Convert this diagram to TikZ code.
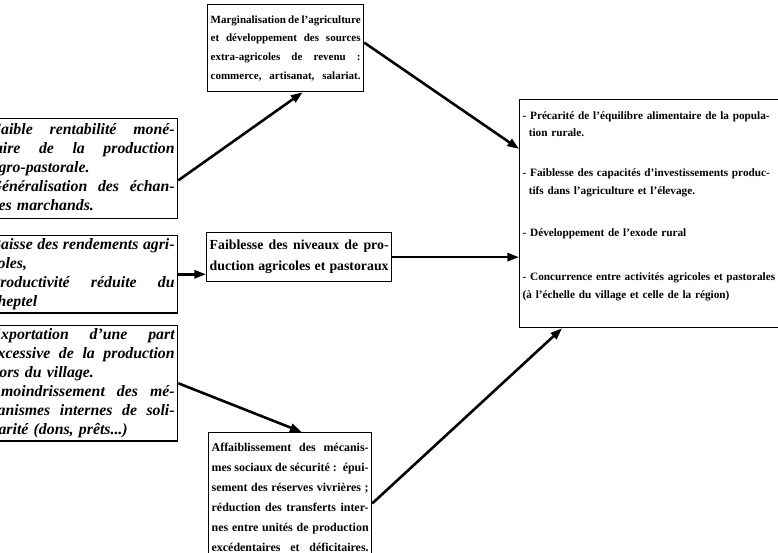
\documentclass[tikz,border=0pt]{standalone}
\usepackage{fontspec}
\setmainfont{Liberation Serif}
\usetikzlibrary{arrows.meta}

\newcommand{\fsz}{\fontsize{9.4pt}{16pt}\selectfont}
\newcommand{\fszit}{\fontsize{13.5pt}{16.2pt}\selectfont}
\newcommand{\jl}[1]{\makebox[\hsize][s]{\spaceskip=0.25em plus 1fil minus 0.12em #1}}

\tikzset{
  boite/.style={draw, line width=1.1pt, inner sep=0.09cm, anchor=north west, align=left, font=\bfseries\fsz},
  cause/.style={boite, font=\bfseries\itshape\fszit},
  fleche/.style={line width=2.2pt, -{Triangle[length=10pt, width=7pt]}},
}

\begin{document}
\begin{tikzpicture}[x=0.03cm, y=-0.03cm]
\useasboundingbox (0,0) rectangle (778,552);
\clip (0,0) rectangle (778,552);

% causes a gauche
\node (cause1) at (-13,118)[cause, text width=5.52cm, minimum height=3.0cm]{%
\jl{Faible rentabilité moné-}\\
\jl{taire de la production}\\
agro-pastorale.\\
\jl{Généralisation des échan-}\\
ges marchands.};
\node (cause2) at (-13,235)[cause, text width=5.52cm, minimum height=2.22cm]{%
\jl{Baisse des rendements agri-}\\
coles,\\
\jl{Productivité réduite du}\\
cheptel};
\node (cause3) at (-13,325)[cause, text width=5.52cm, minimum height=3.45cm]{%
\jl{Exportation d'une part}\\
\jl{excessive de la production}\\
hors du village.\\
\jl{Amoindrissement des mé-}\\
\jl{canismes internes de soli-}\\
darité (dons, prêts...)};

% colonne du milieu
\node (haut) at (207,4)[boite, text width=4.5cm, minimum height=2.61cm]{%
\jl{Marginalisation de l'agriculture}\\
\jl{et développement des sources}\\
\jl{extra-agricoles de revenu :}\\
\jl{commerce, artisanat, salariat.}};
\node (milieu) at (206,232)[boite, text width=5.37cm, minimum height=1.47cm,
  font=\bfseries\fontsize{11.8pt}{18pt}\selectfont]{%
\jl{Faiblesse des niveaux de pro-}\\
\jl{duction agricoles et pastoraux}};
\node (bas) at (208,432)[boite, text width=4.71cm, minimum height=3.9cm,
  font=\bfseries\fontsize{10.2pt}{17pt}\selectfont]{%
\jl{Affaiblissement des mécanis-}\\
\jl{mes sociaux de sécurité : épui-}\\
\jl{sement des réserves vivrières ;}\\
\jl{réduction des transferts inter-}\\
\jl{nes entre unités de production}\\
\jl{excédentaires et déficitaires.}};

% consequences
\node (conseq) at (519,99)[boite, text width=7.74cm, minimum height=6.84cm,
  font=\bfseries\fontsize{9.6pt}{15pt}\selectfont]{%
- Précarité de l'équilibre alimentaire de la popula-\\
\hspace*{1.2ex}tion rurale.\\[19pt]
- Faiblesse des capacités d'investissements produc-\\
\hspace*{1.2ex}tifs dans l'agriculture et l'élevage.\\[21pt]
- Développement de l'exode rural\\[23pt]
- Concurrence entre activités agricoles et pastorales\\
(à l'échelle du village et celle de la région)\\
\mbox{}};

\draw[fleche] (cause1.-7.6) -- (haut.-69.7);
\draw[fleche] (haut.4) -- (conseq.154.7);
\draw[fleche] (cause2.east) -- (cause2.east -| milieu.west);
\draw[fleche] (milieu.east) -- (milieu.east -| conseq.west);
\draw[fleche] (cause3.east) -- (bas.80.7);
\draw[fleche] (bas.-4.9) -- (conseq.-128.1);
\end{tikzpicture}
\end{document}
